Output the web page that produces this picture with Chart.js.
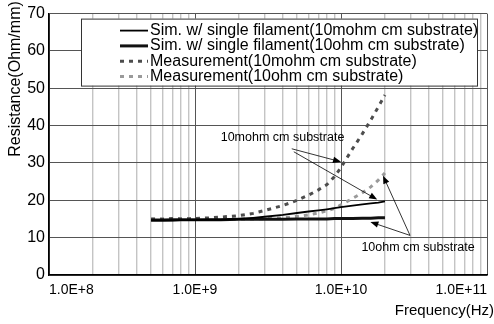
<!DOCTYPE html>
<html>
<head>
<meta charset="utf-8">
<script src="https://cdn.jsdelivr.net/npm/chart.js@4.4.1/dist/chart.umd.min.js"></script>
<style>
  html,body{margin:0;padding:0;background:#fff;}
  #wrap{width:494px;height:324px;}
</style>
</head>
<body>
<div id="wrap"><canvas id="chart" width="494" height="324"></canvas></div>
<script>
/* ---------------- data ---------------- */
const freqHz = [5e8, 6e8, 7e8, 8e8, 1e9, 1.25e9, 1.5e9, 2e9, 2.5e9, 3e9, 4e9, 5e9,
                6e9, 7e9, 8e9, 9e9, 1e10, 1.2e10, 1.4e10, 1.6e10, 1.8e10, 2e10];

const simLowRes  = [14.6, 14.6, 14.6, 14.7, 14.7, 14.8, 14.8, 15.0, 15.3, 15.6, 16.1, 16.6,
                    17.0, 17.3, 17.6, 17.9, 18.2, 18.6, 18.9, 19.2, 19.4, 19.7];
const simHighRes = [14.7, 14.7, 14.8, 14.8, 14.8, 14.8, 14.8, 14.9, 14.9, 14.9, 14.9, 15.0,
                    15.0, 15.0, 15.0, 15.1, 15.1, 15.1, 15.2, 15.2, 15.3, 15.3];
const measLowRes  = [15.0, 14.9, 15.1, 15.0, 15.1, 15.3, 15.5, 15.9, 16.5, 17.3, 18.6, 20.0,
                     21.4, 22.8, 24.2, 26.3, 28.8, 33.8, 37.8, 41.5, 45.0, 48.2];
const measHighRes = [14.9, 15.0, 14.9, 15.0, 15.0, 15.1, 15.0, 15.0, 15.0, 15.1, 15.3, 15.7,
                     16.1, 16.6, 17.2, 17.8, 18.8, 20.5, 22.0, 23.6, 25.4, 27.3];

const seriesLabels = [
  'Sim. w/ single filament(10mohm cm substrate)',
  'Sim. w/ single filament(10ohm cm substrate)',
  'Measurement(10mohm cm substrate)',
  'Measurement(10ohm cm substrate)'
];

const decadeHz = [1e8, 1e9, 1e10, 1e11];
const decadeLabels = ['1.0E+8', '1.0E+9', '1.0E+10', '1.0E+11'];
const minorSteps = [2, 3, 4, 5, 6, 7, 8, 9];
const yTicks = [0, 10, 20, 30, 40, 50, 60, 70];

// callouts, in data units [Hz, Ohm/mm]
const noteText = ['10mohm cm substrate', '10ohm cm substrate'];
const noteAt = [[1.5e9, 36.7], [1.38e10, 7.45]];
const noteArrowFrom = [[4.6e9, 33.8], [4.75e9, 33.0], [2.97e10, 10.6], [2.97e10, 10.6]];
const noteArrowTo   = [[1.0e10, 30.3], [1.77e10, 20.2], [1.94e10, 26.6], [1.59e10, 14.2]];

/* ---------------- helpers ---------------- */
const FONT = '"Liberation Sans", Arial, sans-serif';
Chart.defaults.font.family = FONT;
Chart.defaults.color = '#000';

const gridHz = [];
decadeHz.forEach((d, i) => {
  gridHz.push(d);
  if (i < decadeHz.length - 1) minorSteps.forEach(m => gridHz.push(d * m));
});

const pts = ys => freqHz.map((f, i) => ({x: f, y: ys[i]}));

function drawArrow(ctx, x0, y0, x1, y1){
  const a = Math.atan2(y1 - y0, x1 - x0), L = 8, W = 3.2;
  ctx.beginPath();
  ctx.moveTo(x0, y0);
  ctx.lineTo(x1 - L * 0.7 * Math.cos(a), y1 - L * 0.7 * Math.sin(a));
  ctx.stroke();
  ctx.beginPath();
  ctx.moveTo(x1, y1);
  ctx.lineTo(x1 - L * Math.cos(a) + W * Math.sin(a), y1 - L * Math.sin(a) - W * Math.cos(a));
  ctx.lineTo(x1 - L * Math.cos(a) - W * Math.sin(a), y1 - L * Math.sin(a) + W * Math.cos(a));
  ctx.closePath();
  ctx.fill();
}

/* titles, boxed legend and callouts */
const extras = {
  id: 'extras',
  afterDraw(chart){
    const ctx = chart.ctx, xs = chart.scales.x, ys = chart.scales.y, area = chart.chartArea;
    ctx.save();

    // axis titles
    ctx.fillStyle = '#000';
    ctx.font = '16px ' + FONT;
    ctx.textAlign = 'center';
    ctx.textBaseline = 'middle';
    ctx.save();
    ctx.translate(15.5, 79);
    ctx.rotate(-Math.PI / 2);
    ctx.fillText('Resistance(Ohm/mm)', 0, 0);
    ctx.restore();
    ctx.font = '15px ' + FONT;
    ctx.textAlign = 'right';
    ctx.fillText('Frequency(Hz)', 494, 311);

    // legend box
    const bx = area.left + 32, by = area.top + 5, bw = 396, bh = 67;
    ctx.fillStyle = '#fff';
    ctx.fillRect(bx, by, bw, bh);
    ctx.strokeStyle = '#333';
    ctx.lineWidth = 1;
    ctx.strokeRect(bx + 0.5, by + 0.5, bw, bh);
    ctx.font = '16px ' + FONT;
    ctx.textAlign = 'left';
    chart.data.datasets.forEach((ds, i) => {
      const ry = by + 12 + i * 15.3;
      ctx.strokeStyle = ds.borderColor;
      ctx.lineWidth = ds.borderWidth;
      ctx.setLineDash(ds.borderDash || []);
      ctx.beginPath();
      ctx.moveTo(bx + 39, ry);
      ctx.lineTo(bx + 67, ry);
      ctx.stroke();
      ctx.setLineDash([]);
      ctx.fillStyle = '#000';
      ctx.fillText(ds.label, bx + 69, ry);
    });

    // callouts
    ctx.font = '12.5px ' + FONT;
    ctx.fillStyle = '#000';
    ctx.textBaseline = 'middle';
    noteText.forEach((t, i) => {
      ctx.fillText(t, xs.getPixelForValue(noteAt[i][0]), ys.getPixelForValue(noteAt[i][1]));
    });
    ctx.strokeStyle = '#000';
    ctx.lineWidth = 0.8;
    noteArrowFrom.forEach((p, i) => {
      const q = noteArrowTo[i];
      drawArrow(ctx, xs.getPixelForValue(p[0]), ys.getPixelForValue(p[1]),
                     xs.getPixelForValue(q[0]), ys.getPixelForValue(q[1]));
    });
    ctx.restore();
  }
};

/* ---------------- chart ---------------- */
new Chart(document.getElementById('chart'), {
  type: 'line',
  data: {
    datasets: [
      {label: seriesLabels[0], data: pts(simLowRes), borderColor: '#000', borderWidth: 1.8},
      {label: seriesLabels[1], data: pts(simHighRes), borderColor: '#111', borderWidth: 3},
      {label: seriesLabels[2], data: pts(measLowRes), borderColor: '#4d4d4d', borderWidth: 3, borderDash: [4, 5]},
      {label: seriesLabels[3], data: pts(measHighRes), borderColor: '#9a9a9a', borderWidth: 3, borderDash: [4, 5]}
    ]
  },
  options: {
    responsive: false,
    animation: false,
    devicePixelRatio: 1,
    layout: {padding: {top: 12, right: 4, left: 0, bottom: 0}},
    elements: {point: {radius: 0}, line: {tension: 0}},
    plugins: {legend: {display: false}, tooltip: {enabled: false}},
    scales: {
      x: {
        type: 'logarithmic',
        min: 1e8, max: 1e11,
        afterBuildTicks: s => { s.ticks = gridHz.map(v => ({value: v})); },
        afterFit: s => { s.height = 49; },
        ticks: {
          autoSkip: false, maxRotation: 0, minRotation: 0, align: 'inner', padding: 7,
          color: '#000', font: {size: 14},
          callback: v => { const k = decadeHz.indexOf(v); return k >= 0 ? decadeLabels[k] : ''; }
        },
        grid: {
          drawTicks: false,
          color: c => decadeHz.includes(c.tick && c.tick.value) ? '#555' : '#c4c4c4',
          lineWidth: c => decadeHz.includes(c.tick && c.tick.value) ? 1 : 1.4
        },
        border: {color: '#000', width: 1.5}
      },
      y: {
        min: 0, max: 70,
        afterBuildTicks: s => { s.ticks = yTicks.map(v => ({value: v})); },
        afterFit: s => { s.width = 49; },
        ticks: {padding: 4, color: '#000', font: {size: 16}},
        grid: {drawTicks: false, color: '#555', lineWidth: 1},
        border: {color: '#000', width: 1.5}
      }
    }
  },
  plugins: [extras]
});
</script>
</body>
</html>
